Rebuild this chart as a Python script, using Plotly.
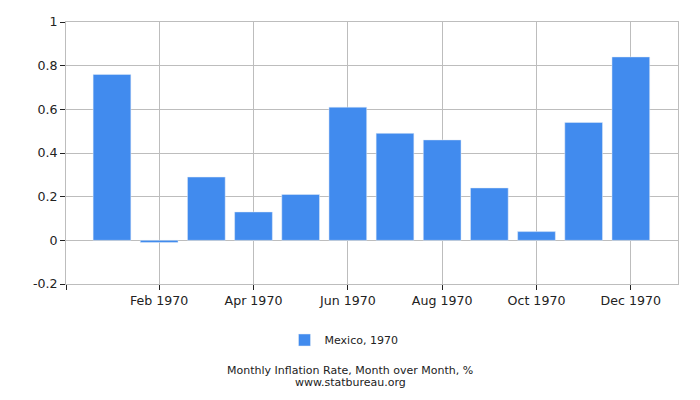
import plotly.graph_objects as go

months = ["Jan 1970", "Feb 1970", "Mar 1970", "Apr 1970", "May 1970", "Jun 1970",
          "Jul 1970", "Aug 1970", "Sep 1970", "Oct 1970", "Nov 1970", "Dec 1970"]
values = [0.76, -0.01, 0.29, 0.13, 0.21, 0.61, 0.49, 0.46, 0.24, 0.04, 0.54, 0.84]
series_name = "Mexico, 1970"
y_ticks = [-0.2, 0, 0.2, 0.4, 0.6, 0.8, 1]
y_tick_labels = ["-0.2", "0", "0.2", "0.4", "0.6", "0.8", "1"]

idx = list(range(len(months)))
x_left = -0.975
fig = go.Figure()
fig.add_trace(go.Bar(x=idx, y=values, name=series_name, marker_color="#418bee",
                     showlegend=True))

font = "DejaVu Sans"
# plot area: x 66..678, y 22..284 (px)
def px_x(p):
    return (p - 66) / 612.0

def px_y(p):
    return (284 - p) / 262.0

fig.update_layout(
    width=700, height=400,
    margin=dict(l=66, r=22, t=22, b=116),
    paper_bgcolor="white", plot_bgcolor="white",
    bargap=0.2,
    font=dict(family=font, size=12, color="#222"),
    showlegend=True,
    legend=dict(orientation="h", x=px_x(344), xanchor="center", y=px_y(340), yanchor="middle",
                font=dict(size=11, family=font, color="#222")),
    xaxis=dict(range=[x_left, 12], tickmode="array",
               tickvals=[x_left] + idx[1::2], ticktext=[""] + months[1::2],
               showgrid=True, gridcolor="#bdbdbd", gridwidth=1,
               ticks="outside", ticklen=5, tickcolor="#222",
               showline=True, linecolor="#bdbdbd", mirror=True,
               zeroline=False, tickfont=dict(size=12.6)),
    yaxis=dict(range=[-0.2, 1], tickmode="array", tickvals=y_ticks, ticktext=y_tick_labels,
               showgrid=True, gridcolor="#bdbdbd", gridwidth=1,
               ticks="outside", ticklen=5, tickcolor="#222",
               showline=True, linecolor="#bdbdbd", mirror=True,
               zeroline=False, tickfont=dict(size=12.6)),
    annotations=[
        dict(text="Monthly Inflation Rate, Month over Month, %",
             xref="paper", yref="paper", x=px_x(350), y=px_y(370), xanchor="center", yanchor="middle",
             showarrow=False, font=dict(size=11, family=font, color="#222")),
        dict(text="www.statbureau.org",
             xref="paper", yref="paper", x=px_x(350), y=px_y(382), xanchor="center", yanchor="middle",
             showarrow=False, font=dict(size=11, family=font, color="#222")),
    ],
)
fig.write_html("out.html", config={"displayModeBar": False},
               post_script="document.body.style.margin='0';")
